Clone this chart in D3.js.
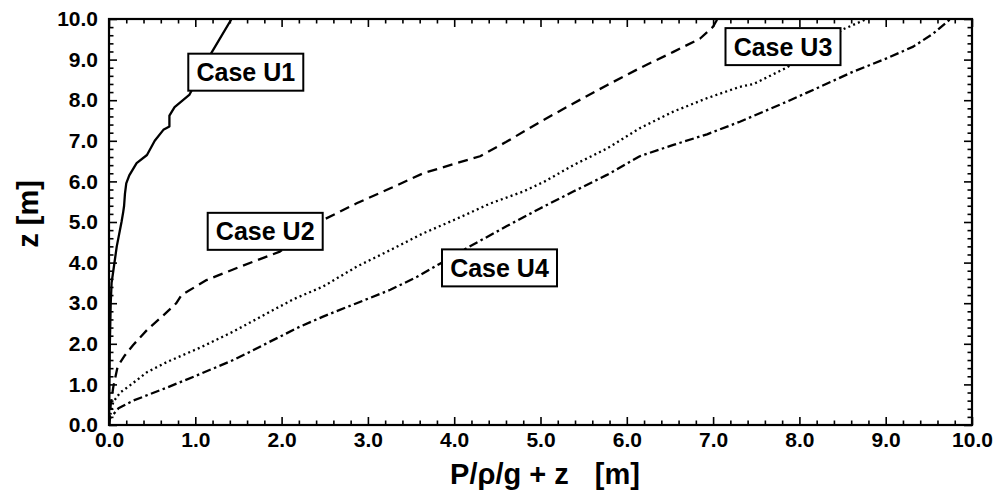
<!DOCTYPE html>
<html>
<head>
<meta charset="utf-8">
<script src="https://cdn.jsdelivr.net/npm/d3@7"></script>
<style>
  body { margin: 0; background: #fff; }
  svg text { font-family: "Liberation Sans", Arial, Helvetica, sans-serif; font-weight: bold; fill: #000; }
</style>
</head>
<body>
<svg id="chart" width="996" height="503"></svg>
<script>
// Piezometric head profiles: [P/rho/g + z (m), z (m)]
const caseU1 = [[0,0],[0.005,1.0],[0.01,2.0],[0.02,3.0],[0.03,3.5],[0.05,3.8],[0.09,4.4],[0.145,5.0],[0.165,5.25],[0.175,5.4],[0.185,5.7],[0.2,5.95],[0.235,6.15],[0.32,6.45],[0.44,6.65],[0.53,7.0],[0.63,7.27],[0.7,7.35],[0.7,7.62],[0.76,7.83],[0.93,8.13],[1.19,9.18],[1.42,10.0]];
const caseU2 = [[0,0],[0.02,0.5],[0.05,0.94],[0.1,1.44],[0.185,1.72],[0.28,1.97],[0.44,2.34],[0.63,2.7],[0.78,3.0],[0.84,3.2],[1.13,3.57],[1.52,3.9],[1.98,4.27],[2.48,5.05],[2.87,5.46],[3.26,5.83],[3.64,6.2],[4.03,6.45],[4.3,6.62],[4.6,6.97],[5.0,7.47],[5.38,7.92],[5.77,8.37],[6.15,8.79],[6.54,9.19],[6.85,9.52],[7.0,9.81],[7.05,10.0]];
const caseU3 = [[0,0],[0.02,0.3],[0.05,0.57],[0.13,0.8],[0.24,0.97],[0.44,1.3],[0.67,1.55],[1.05,1.9],[1.44,2.3],[1.83,2.75],[2.14,3.1],[2.48,3.41],[2.87,3.9],[3.26,4.31],[3.64,4.72],[4.03,5.08],[4.41,5.45],[4.8,5.75],[5.05,6.0],[5.38,6.4],[5.77,6.81],[6.15,7.31],[6.54,7.72],[6.93,8.05],[7.31,8.33],[7.47,8.4],[7.85,8.8],[8.2,9.3],[8.51,9.75],[8.78,10.0]];
const caseU4 = [[0,0],[0.01,0.16],[0.11,0.41],[0.28,0.6],[0.67,0.92],[1.05,1.25],[1.44,1.6],[1.63,1.8],[1.9,2.09],[2.21,2.42],[2.48,2.67],[2.87,3.0],[3.26,3.33],[3.57,3.65],[3.84,3.98],[4.14,4.35],[4.61,4.9],[5.0,5.34],[5.38,5.75],[5.77,6.16],[6.15,6.62],[6.54,6.9],[6.93,7.16],[7.31,7.47],[7.85,7.96],[8.24,8.33],[8.62,8.7],[9.01,9.03],[9.32,9.32],[9.55,9.64],[9.75,10.0]];

const caseNames = ["Case U1", "Case U2", "Case U3", "Case U4"];
const xTickValues = [0,1,2,3,4,5,6,7,8,9,10];
const yTickValues = [0,1,2,3,4,5,6,7,8,9,10];
const xTitle = "P/ρ/g + z";
const unitTitle = "[m]";
const yTitle = "z [m]";

// Layout
const plot = { left: 109, right: 972, top: 19, bottom: 425 };
const x = d3.scaleLinear().domain([0, 10]).range([plot.left, plot.right]);
const y = d3.scaleLinear().domain([0, 10]).range([plot.bottom, plot.top]);

const series = [
  { name: caseNames[0], data: caseU1, dash: null,            label: [1.585, 8.69] },
  { name: caseNames[1], data: caseU2, dash: "10,6",          label: [1.81, 4.77] },
  { name: caseNames[2], data: caseU3, dash: "2,3.2",         label: [7.81, 9.32] },
  { name: caseNames[3], data: caseU4, dash: "9,3.5,2.5,3.5", label: [4.525, 3.87] }
];

const svg = d3.select("#chart");

svg.append("defs").append("clipPath").attr("id", "plotClip")
  .append("rect")
  .attr("x", plot.left).attr("y", plot.top)
  .attr("width", plot.right - plot.left).attr("height", plot.bottom - plot.top);

// Curves
const line = d3.line().x(d => x(d[0])).y(d => y(d[1]));
const curves = svg.append("g").attr("clip-path", "url(#plotClip)");
series.forEach(s => {
  curves.append("path")
    .datum(s.data)
    .attr("d", line)
    .attr("fill", "none")
    .attr("stroke", "#000")
    .attr("stroke-width", 2.3)
    .attr("stroke-linejoin", "round")
    .attr("stroke-dasharray", s.dash);
});

// Ticks (inward) on all four sides, major every 1.0, minor every 0.2
const minor = d3.range(0, 50.5, 1).map(i => i / 5).filter(v => Math.abs(v - Math.round(v)) > 1e-6);
const fmt = d3.format(".1f");

function styleAxis(g) {
  g.select(".domain").remove();
  g.selectAll(".tick line").attr("stroke", "#000").attr("stroke-width", 1.6);
}

svg.append("g").attr("transform", `translate(0,${plot.bottom})`)
  .call(d3.axisBottom(x).tickValues(xTickValues).tickSize(-8).tickPadding(7).tickFormat(fmt))
  .call(styleAxis)
  .call(g => g.selectAll("text").attr("font-size", 21).attr("fill", "#000"));
svg.append("g").attr("transform", `translate(0,${plot.bottom})`)
  .call(d3.axisBottom(x).tickValues(minor).tickSize(-4.5).tickFormat(""))
  .call(styleAxis);

svg.append("g").attr("transform", `translate(0,${plot.top})`)
  .call(d3.axisTop(x).tickValues(xTickValues).tickSize(-8).tickFormat(""))
  .call(styleAxis);
svg.append("g").attr("transform", `translate(0,${plot.top})`)
  .call(d3.axisTop(x).tickValues(minor).tickSize(-4.5).tickFormat(""))
  .call(styleAxis);

svg.append("g").attr("transform", `translate(${plot.left},0)`)
  .call(d3.axisLeft(y).tickValues(yTickValues).tickSize(-8).tickPadding(11).tickFormat(fmt))
  .call(styleAxis)
  .call(g => g.selectAll("text").attr("font-size", 21).attr("fill", "#000"));
svg.append("g").attr("transform", `translate(${plot.left},0)`)
  .call(d3.axisLeft(y).tickValues(minor).tickSize(-4.5).tickFormat(""))
  .call(styleAxis);

svg.append("g").attr("transform", `translate(${plot.right},0)`)
  .call(d3.axisRight(y).tickValues(yTickValues).tickSize(-8).tickFormat(""))
  .call(styleAxis);
svg.append("g").attr("transform", `translate(${plot.right},0)`)
  .call(d3.axisRight(y).tickValues(minor).tickSize(-4.5).tickFormat(""))
  .call(styleAxis);

// Frame
svg.append("rect")
  .attr("x", plot.left).attr("y", plot.top)
  .attr("width", plot.right - plot.left).attr("height", plot.bottom - plot.top)
  .attr("fill", "none").attr("stroke", "#000").attr("stroke-width", 2.2);

// Boxed case labels
const boxW = 115, boxH = 37;
series.forEach(s => {
  const cx = x(s.label[0]), cy = y(s.label[1]);
  const g = svg.append("g");
  g.append("rect")
    .attr("x", cx - boxW / 2).attr("y", cy - boxH / 2)
    .attr("width", boxW).attr("height", boxH)
    .attr("fill", "#fff").attr("stroke", "#000").attr("stroke-width", 2);
  g.append("text")
    .attr("x", cx).attr("y", cy)
    .attr("dy", "0.36em")
    .attr("text-anchor", "middle")
    .attr("font-size", 25)
    .text(s.name);
});

// Axis titles
const xt = svg.append("text")
  .attr("x", 545).attr("y", 484)
  .attr("text-anchor", "middle")
  .attr("font-size", 29);
xt.append("tspan").text(xTitle);
xt.append("tspan").attr("dx", 26).text(unitTitle);

svg.append("text")
  .attr("transform", "translate(38,214) rotate(-90)")
  .attr("text-anchor", "middle")
  .attr("font-size", 29)
  .text(yTitle);
</script>
</body>
</html>
